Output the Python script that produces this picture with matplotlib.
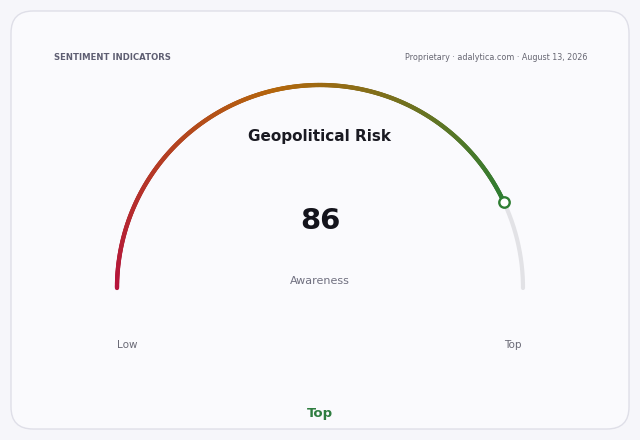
import numpy as np
import matplotlib
matplotlib.use("Agg")
import matplotlib.pyplot as plt
from matplotlib.collections import LineCollection
from matplotlib.colors import LinearSegmentedColormap
from matplotlib.patches import FancyBboxPatch

# data
title = "Geopolitical Risk"
value = 86
vmin, vmax = 0, 100
value_label = "Awareness"
low_label = "Low"
high_label = "Top"
band_label = "Top"
header = "SENTIMENT INDICATORS"
source = "Proprietary · adalytica.com · August 13, 2026"

fig = plt.figure(figsize=(6.4, 4.4), dpi=100)
fig.patch.set_facecolor("#f6f6fa")
ax = fig.add_axes([0, 0, 1, 1])
ax.set_xlim(0, 640)
ax.set_ylim(440, 0)
ax.axis("off")

# card
card = FancyBboxPatch((11, 11), 618, 418, boxstyle="round,pad=0,rounding_size=22",
                      fc="#fafafd", ec="#dfdfe8", lw=1)
ax.add_patch(card)

ax.text(54, 57, header, fontsize=6.1, fontweight="bold", color="#5e5e72", va="center", ha="left")
ax.text(587, 57, source, fontsize=5.8, color="#666672", va="center", ha="right")

# gauge
cx, cy, r = 320, 288, 203
frac = (value - vmin) / (vmax - vmin)

# track
t = np.linspace(np.pi, 0, 300)
ax.plot(cx + r * np.cos(t), cy - r * np.sin(t), color="#e2e2e6", lw=3.0,
        solid_capstyle="round", zorder=2)

# value arc, coloured red -> amber -> green along its length
cmap = LinearSegmentedColormap.from_list("g", ["#b5133c", "#b4660c", "#2e7d32"])
t2 = np.linspace(np.pi, np.pi - frac * np.pi, 400)
xs = cx + r * np.cos(t2)
ys = cy - r * np.sin(t2)
pts = np.column_stack([xs, ys]).reshape(-1, 1, 2)
segs = np.concatenate([pts[:-1], pts[1:]], axis=1)
lc = LineCollection(segs, colors=cmap(np.linspace(0, 1, len(segs))),
                    lw=3.1, capstyle="round", zorder=3)
ax.add_collection(lc)

ax.plot(xs[-1], ys[-1], marker="o", ms=7.5, mfc="white", mec="#2e7d32", mew=1.7, zorder=4)

ax.text(cx, 137, title, fontsize=11, fontweight="bold", color="#1a1a22", ha="center", va="center")
ax.text(cx, 221, str(value), fontsize=21, fontweight="bold", color="#14141c", ha="center", va="center")
ax.text(cx, 281, value_label, fontsize=8, color="#707080", ha="center", va="center")
ax.text(127, 345, low_label, fontsize=7.5, color="#6a6a76", ha="center", va="center")
ax.text(513, 345, high_label, fontsize=7.5, color="#6a6a76", ha="center", va="center")
ax.text(cx, 414, band_label, fontsize=9.5, fontweight="bold", color="#2e7d40", ha="center", va="center")

fig.savefig("out.png", dpi=100, facecolor=fig.get_facecolor())
